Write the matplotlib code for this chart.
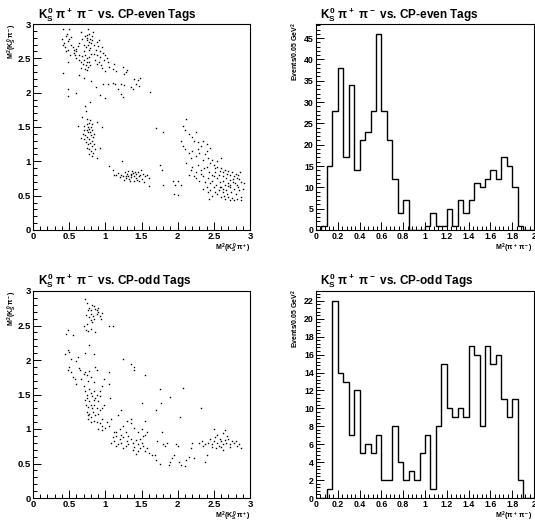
import numpy as np
import matplotlib
matplotlib.use('Agg')
import matplotlib.pyplot as plt
from matplotlib.ticker import MultipleLocator

plt.rcParams['font.family'] = ['Liberation Sans', 'DejaVu Sans']
plt.rcParams['font.weight'] = 'bold'
plt.rcParams['mathtext.fontset'] = 'custom'
plt.rcParams['mathtext.rm'] = 'Liberation Sans:bold'
plt.rcParams['mathtext.it'] = 'Liberation Sans:bold'
plt.rcParams['mathtext.bf'] = 'Liberation Sans:bold'

# Dalitz plot points: (M2(Ks pi+), M2(Ks pi-))
even_points = [
    # upper-left cluster
    (0.42,2.93),(0.50,2.93),(0.40,2.78),(0.43,2.72),(0.45,2.82),(0.47,2.86),(0.41,2.70),(0.44,2.66),
    (0.48,2.75),(0.50,2.78),(0.52,2.81),(0.46,2.60),(0.49,2.62),(0.53,2.70),(0.55,2.66),(0.51,2.55),
    (0.57,2.62),(0.56,2.58),(0.59,2.64),(0.60,2.60),(0.58,2.55),(0.62,2.68),(0.63,2.72),(0.60,2.50),
    (0.64,2.47),(0.66,2.88),(0.68,2.78),(0.70,2.70),(0.72,2.82),(0.74,2.76),(0.75,2.79),(0.76,2.93),
    (0.77,2.74),(0.78,2.86),(0.79,2.78),(0.80,2.72),(0.81,2.83),(0.76,2.70),(0.74,2.84),(0.73,2.66),
    (0.77,2.62),(0.79,2.65),(0.82,2.76),(0.83,2.88),(0.71,2.60),(0.72,2.55),(0.74,2.50),(0.75,2.45),
    (0.73,2.40),(0.76,2.38),(0.70,2.47),(0.68,2.53),(0.69,2.42),(0.72,2.35),(0.75,2.33),(0.78,2.45),
    (0.77,2.52),(0.79,2.40),(0.80,2.57),(0.66,2.45),(0.67,2.36),(0.64,2.55),
    (0.85,2.70),(0.87,2.62),(0.88,2.55),(0.90,2.68),(0.92,2.60),(0.93,2.52),(0.95,2.66),(0.97,2.58),
    (0.98,2.48),(0.86,2.48),(0.89,2.42),(0.91,2.45),(0.94,2.40),(1.00,2.55),(1.02,2.50),(1.03,2.44),
    (0.96,2.36),(1.05,2.38),(1.00,2.31),(1.10,2.35),(1.12,2.42),(1.15,2.32),(1.25,2.38),(1.28,2.30),
    (1.30,2.33),(1.26,2.27),(0.84,2.56),(0.88,2.74),(0.91,2.76),
    (0.49,2.45),(0.42,2.28),(0.64,2.25),(0.70,2.22),
    # band near 2.1
    (0.80,2.17),(0.87,2.08),(0.97,2.13),(1.03,2.12),(1.10,2.14),(1.14,2.12),(1.22,2.13),(1.26,2.11),
    (1.35,2.08),(1.40,2.20),(1.45,2.18),(1.48,2.21),(1.42,2.12),(1.47,2.10),(1.38,2.05),(1.18,2.05),
    (1.22,1.98),(1.24,1.93),(0.93,1.97),(0.48,2.06),(0.48,1.95),(0.59,1.99),(0.99,1.92),(1.62,2.01),
    # vertical band
    (0.79,1.87),(0.72,1.80),(0.73,1.73),(0.68,1.65),(0.75,1.62),(0.62,1.52),(0.70,1.52),(0.77,1.56),
    (0.79,1.60),(0.82,1.55),(0.80,1.50),(0.78,1.47),(0.81,1.45),(0.76,1.42),(0.72,1.38),(0.69,1.40),
    (0.70,1.33),(0.74,1.35),(0.77,1.32),(0.80,1.38),(0.83,1.35),(0.85,1.40),(0.73,1.28),(0.76,1.25),
    (0.79,1.27),(0.82,1.30),(0.75,1.20),(0.78,1.18),(0.81,1.22),(0.84,1.25),(0.80,1.15),(0.83,1.12),
    (0.86,1.18),(0.78,1.10),(0.82,1.08),(0.88,1.05),(0.71,1.45),(0.66,1.34),(0.93,1.20),(0.96,1.50),
    (0.88,1.58),(0.74,1.55),(0.76,1.50),(0.79,1.42),(0.74,1.46),
    # horizontal band
    (1.05,0.93),(1.10,0.88),(1.15,0.80),(1.17,0.83),(1.22,0.80),(1.23,1.00),(1.25,0.78),(1.28,0.76),
    (1.30,0.82),(1.32,0.79),(1.33,0.74),(1.35,0.80),(1.36,0.77),(1.38,0.83),(1.39,0.72),(1.40,0.79),
    (1.42,0.81),(1.43,0.76),(1.45,0.85),(1.46,0.78),(1.48,0.80),(1.50,0.74),(1.52,0.82),(1.55,0.78),
    (1.58,0.80),(1.60,0.75),(1.60,0.64),(1.27,0.85),(1.31,0.86),(1.34,0.72),(1.37,0.86),(1.44,0.73),
    (1.49,0.88),(1.53,0.70),(1.26,0.73),(1.20,0.77),(1.12,0.80),(1.41,0.84),(1.46,0.71),(1.29,0.79),
    (1.36,0.81),
    # isolated
    (1.70,1.48),(1.80,1.43),(1.75,0.95),(1.78,0.88),(1.80,0.65),(1.93,0.72),(1.96,0.66),(2.00,0.72),
    (1.95,0.52),(2.00,0.51),(2.05,0.66),
    # lower-right cluster
    (2.08,1.52),(2.10,1.45),(2.12,1.62),(2.15,1.40),(2.20,1.35),(2.25,1.42),(2.22,1.30),(2.28,1.28),
    (2.35,1.30),(2.32,1.22),(2.40,1.25),(2.45,1.20),(2.05,1.30),(2.08,1.22),(2.10,1.18),(2.15,1.12),
    (2.18,1.05),(2.20,1.15),(2.25,1.08),(2.30,1.12),(2.35,1.02),(2.38,1.10),(2.42,1.05),(2.45,0.98),
    (2.48,1.02),(2.50,0.95),(2.12,0.98),(2.20,0.92),(2.28,0.95),(2.32,0.88),(2.36,0.90),(2.40,0.92),
    (2.44,0.85),(2.52,0.90),(2.55,0.92),(2.58,0.86),(2.60,0.90),(2.62,0.84),(2.65,0.88),(2.68,0.82),
    (2.70,0.86),(2.72,0.80),(2.75,0.84),(2.78,0.78),(2.80,0.82),(2.82,0.76),(2.85,0.74),(2.88,0.70),
    (2.92,0.68),(2.22,0.78),(2.25,0.75),(2.30,0.72),(2.35,0.78),(2.38,0.70),(2.42,0.75),(2.45,0.68),
    (2.48,0.72),(2.50,0.78),(2.53,0.65),(2.55,0.75),(2.58,0.70),(2.60,0.62),(2.63,0.72),(2.65,0.66),
    (2.67,0.58),(2.70,0.68),(2.72,0.62),(2.74,0.55),(2.76,0.70),(2.78,0.60),(2.80,0.52),(2.82,0.65),
    (2.85,0.58),(2.87,0.48),(2.40,0.62),(2.42,0.55),(2.45,0.58),(2.48,0.50),(2.52,0.55),(2.55,0.52),
    (2.57,0.58),(2.60,0.48),(2.62,0.55),(2.64,0.50),(2.66,0.45),(2.68,0.52),(2.70,0.48),(2.72,0.43),
    (2.75,0.46),(2.78,0.44),(2.82,0.45),(2.88,0.43),(2.50,0.62),(2.47,0.80),(2.52,0.85),(2.57,0.80),
    (2.62,0.78),(2.67,0.75),(2.72,0.73),(2.77,0.74),(2.83,0.80),(2.86,0.85),(2.58,0.62),(2.63,0.60),
    (2.69,0.64),(2.73,0.66),(2.79,0.68),(2.84,0.62),(2.90,0.60),(2.32,0.82),(2.26,0.85),(2.18,0.88),
    (2.15,0.80),(2.28,1.18),(2.40,1.15),(2.55,1.00),(2.60,1.05),(2.43,0.45),(2.35,0.60),
]

odd_points = [
    # upper cluster
    (0.72,2.88),(0.75,2.82),(0.78,2.76),(0.80,2.72),(0.82,2.80),(0.84,2.78),(0.86,2.74),(0.88,2.72),
    (0.76,2.72),(0.73,2.65),(0.77,2.62),(0.80,2.66),(0.83,2.64),(0.85,2.60),(0.88,2.66),(0.90,2.70),
    (0.92,2.64),(0.94,2.60),(0.95,2.68),(0.80,2.58),(0.82,2.55),(0.75,2.52),(0.71,2.50),(0.73,2.44),
    (0.76,2.42),(0.80,2.45),(0.86,2.40),(1.05,2.50),(1.10,2.50),(0.78,2.22),(0.72,2.10),(0.85,2.08),
    (0.90,2.75),
    # left band
    (0.46,2.37),(0.48,2.43),(0.55,2.36),(0.44,2.08),(0.48,2.15),(0.50,2.12),(0.52,2.02),(0.50,1.90),
    (0.48,1.85),(0.53,1.82),(0.55,1.75),(0.58,1.72),(0.60,1.98),(0.62,2.05),(0.63,1.88),(0.60,1.65),
    (0.65,1.85),(0.67,1.72),(0.70,1.80),(0.72,1.82),(0.74,1.78),(0.76,1.70),(0.78,1.84),(0.80,1.75),
    (0.86,1.90),(0.88,1.85),(0.84,1.68),
    # main curve
    (0.72,1.55),(0.74,1.50),(0.75,1.45),(0.72,1.42),(0.78,1.58),(0.80,1.52),(0.82,1.48),(0.84,1.55),
    (0.86,1.45),(0.88,1.50),(0.90,1.40),(0.92,1.48),(0.78,1.40),(0.80,1.35),(0.76,1.32),(0.82,1.30),
    (0.85,1.35),(0.88,1.30),(0.74,1.25),(0.78,1.22),(0.80,1.18),(0.83,1.25),(0.86,1.20),(0.90,1.22),
    (0.93,1.28),(0.95,1.15),(0.76,1.15),(0.80,1.10),(0.84,1.12),(0.88,1.10),(0.92,1.08),(0.96,1.05),
    (1.00,1.02),(0.90,1.00),(0.95,0.98),(1.02,1.10),(1.05,1.05),(1.08,1.15),(0.98,1.35),(1.06,1.45),
    (1.05,1.65),(1.05,1.82),(0.95,1.62),(0.98,1.72),(0.70,1.62),(0.73,1.35),(0.76,1.20),(0.84,1.42),
    (0.93,1.55),(0.96,1.30),
    # middle region
    (1.10,0.88),(1.12,0.82),(1.15,0.90),(1.18,0.78),(1.20,0.85),(1.22,0.80),(1.25,0.88),(1.28,0.75),
    (1.30,0.82),(1.32,0.78),(1.35,0.86),(1.38,0.80),(1.40,0.74),(1.42,0.84),(1.45,0.78),(1.48,0.72),
    (1.50,0.80),(1.52,0.75),(1.55,0.68),(1.58,0.72),(1.60,0.65),(1.65,0.62),(1.15,0.95),(1.20,1.00),
    (1.25,1.05),(1.28,0.95),(1.18,1.20),(1.22,1.28),(1.30,1.12),(1.35,1.08),(1.40,1.02),(1.45,0.95),
    (1.50,1.00),(1.52,0.90),(1.55,0.92),(1.58,0.95),(1.55,1.12),(1.50,1.38),(1.38,0.70),(1.42,0.64),
    (1.45,0.68),(1.25,0.72),(1.15,0.75),(1.12,0.95),(1.08,0.80),(1.32,0.90),(1.48,0.85),(1.35,1.15),
    (1.22,0.92),
    # isolated
    (1.25,2.02),(1.35,1.94),(1.40,1.90),(1.40,1.85),(1.55,1.78),(1.75,1.58),(1.90,1.47),(1.77,1.38),
    (2.08,1.60),(2.03,1.18),(2.32,1.30),(1.70,1.28),
    # lower band
    (1.68,0.62),(1.70,0.55),(1.75,0.50),(1.72,0.82),(1.80,0.78),(1.85,0.80),(1.90,0.52),(1.92,0.58),
    (1.95,0.62),(1.98,0.78),(2.00,0.75),(2.02,0.52),(2.05,0.48),(2.10,0.46),(2.12,0.55),(2.15,0.60),
    (2.18,0.72),(2.20,0.80),(2.22,0.58),(1.78,0.95),(1.88,0.48),(1.82,0.75),
    # right band
    (2.30,0.80),(2.33,0.82),(2.38,0.78),(2.42,0.80),(2.45,0.85),(2.48,0.78),(2.50,0.82),(2.52,0.88),
    (2.55,0.80),(2.57,0.76),(2.60,0.82),(2.62,0.78),(2.65,0.84),(2.67,0.80),(2.70,0.85),(2.72,0.78),
    (2.75,0.82),(2.78,0.80),(2.82,0.76),(2.85,0.78),(2.88,0.72),(2.50,1.00),(2.55,0.92),(2.62,0.94),
    (2.66,0.98),(2.68,0.90),(2.58,0.86),(2.40,0.62),(2.38,0.52),(2.47,0.74),(2.53,0.72),(2.60,0.74),
    (2.63,0.70),(2.35,0.75),(2.73,0.74),(2.80,0.82),
]

# M2(pi+ pi-) histograms, 40 bins of 0.05 GeV^2 from 0 to 2
bin_edges = np.linspace(0.0, 2.0, 41)
even_counts = [0, 1, 15, 28, 38, 17, 34, 14, 21, 23, 28, 46, 28, 21, 12, 4, 7, 0, 0, 0,
               1, 4, 1, 1, 5, 1, 7, 4, 7, 11, 10, 12, 14, 12, 17, 15, 10, 1, 0, 0]
odd_counts = [0, 0, 1, 22, 14, 13, 7, 12, 5, 6, 5, 7, 2, 2, 8, 4, 2, 3, 2, 5,
              7, 1, 8, 15, 10, 9, 10, 9, 17, 16, 8, 17, 15, 16, 11, 9, 11, 2, 0, 0]

titles = [r'$K^0_S\ \pi^+\ \pi^-$ vs. CP-even Tags', r'$K^0_S\ \pi^+\ \pi^-$ vs. CP-odd Tags']

W, H = 535, 522
fig = plt.figure(figsize=(W / 100, H / 100), dpi=100)


def px_axes(x0, y0, x1, y1):
    return fig.add_axes([x0 / W, 1 - y1 / H, (x1 - x0) / W, (y1 - y0) / H])


def style(ax, major_x, minor_x, major_y, minor_y, fs):
    ax.xaxis.set_major_locator(MultipleLocator(major_x))
    ax.xaxis.set_minor_locator(MultipleLocator(minor_x))
    ax.yaxis.set_major_locator(MultipleLocator(major_y))
    ax.yaxis.set_minor_locator(MultipleLocator(minor_y))
    ax.tick_params(which='both', direction='in', top=False, right=False, width=0.7)
    ax.tick_params(which='major', length=6, labelsize=fs, pad=1.5)
    ax.tick_params(which='minor', length=3)
    for s in ax.spines.values():
        s.set_linewidth(0.8)
    for lab in ax.get_xticklabels() + ax.get_yticklabels():
        lab.set_fontweight('bold')


rows = [(24, 230, 5), (291, 498, 271)]
for i, (pts, counts) in enumerate([(even_points, even_counts), (odd_points, odd_counts)]):
    top, bot, ty = rows[i]

    # Dalitz scatter
    ax = px_axes(33, top, 250, bot)
    xs = [p[0] for p in pts]
    ys = [p[1] for p in pts]
    ax.plot(xs, ys, 's', color='black', markersize=1.0, markeredgewidth=0)
    ax.set_xlim(0, 3)
    ax.set_ylim(0, 3)
    style(ax, 0.5, 0.1, 0.5, 0.1, 6.8)
    ax.xaxis.set_major_formatter(plt.FuncFormatter(lambda v, p: f'{v:g}'))
    ax.yaxis.set_major_formatter(plt.FuncFormatter(lambda v, p: f'{v:g}'))
    fig.text(251 / W, 1 - (bot + 12) / H, r'$M^2(K^0_S\,\pi^+)$', ha='right', va='top', fontsize=5)
    fig.text(12 / W, 1 - (top - 1) / H, r'$M^2(K^0_S\,\pi^-)$', ha='center', va='top',
             rotation=90, fontsize=5)
    fig.text(38 / W, 1 - ty / H, titles[i], ha='left', va='top', fontsize=8.5, fontweight='bold')

    # M2(pi pi) histogram
    ax2 = px_axes(316, top, 534, bot)
    ax2.stairs(counts, bin_edges, color='black', linewidth=1.0)
    ax2.set_xlim(0, 2)
    ax2.set_ylim(0, max(counts) * 1.05)
    if i == 0:
        style(ax2, 0.2, 0.04, 5, 1, 6.3)
    else:
        style(ax2, 0.2, 0.04, 2, 0.4, 6.3)
    ax2.xaxis.set_major_formatter(plt.FuncFormatter(lambda v, p: f'{v:g}'))
    fig.text(533 / W, 1 - (bot + 12) / H, r'$M^2(\pi^+\,\pi^-)$', ha='right', va='top', fontsize=5)
    fig.text(295 / W, 1 - (top - 2) / H, r'Events/0.05 GeV$^2$', ha='center', va='top',
             rotation=90, fontsize=5)
    fig.text(320 / W, 1 - ty / H, titles[i], ha='left', va='top', fontsize=8.5, fontweight='bold')

fig.savefig('out.png', dpi=100)
